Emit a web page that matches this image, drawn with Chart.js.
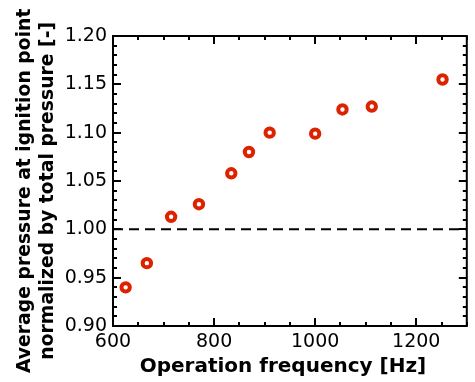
<!DOCTYPE html>
<html>
<head>
<meta charset="utf-8">
<script src="https://cdn.jsdelivr.net/npm/chart.js@4"></script>
<style>
html, body { margin: 0; padding: 0; background: #fff; }
</style>
</head>
<body>
<canvas id="myChart" width="475" height="382"></canvas>
<script>
// operating frequency [Hz] and normalized pressure at ignition point
const freqs = [625, 667, 715, 770, 834, 869, 910, 1000, 1054, 1112, 1252];
const pressures = [0.940, 0.965, 1.013, 1.026, 1.058, 1.080, 1.100, 1.099, 1.124, 1.127, 1.155];
const refLevel = 1.0;
const xTicks = [600, 800, 1000, 1200];
const yTicks = [0.90, 0.95, 1.00, 1.05, 1.10, 1.15, 1.20];
const xRange = [600, 1300];
const yRange = [0.90, 1.20];

Chart.defaults.font.family = "'DejaVu Sans', sans-serif";
Chart.defaults.color = '#000';

// inward tick marks + frame, like the original plot
const frameTicks = {
    id: 'frameTicks',
    afterDraw(chart) {
        const ctx = chart.ctx;
        const a = chart.chartArea;
        const xs = chart.scales.x, ys = chart.scales.y;
        ctx.save();
        ctx.strokeStyle = '#000';
        ctx.lineWidth = 2;
        ctx.beginPath();
        for (let v = xRange[0]; v <= xRange[1] + 1e-6; v += 50) {
            const px = Math.round(xs.getPixelForValue(v));
            const len = (v % 200 == 0) ? 8 : 4;
            ctx.moveTo(px, a.bottom); ctx.lineTo(px, a.bottom - len);
            ctx.moveTo(px, a.top); ctx.lineTo(px, a.top + len);
        }
        for (let i = 0; i <= 30; i++) {
            const v = yRange[0] + i * 0.01;
            const py = Math.round(ys.getPixelForValue(v));
            const len = (i % 5 == 0) ? 8 : 4;
            ctx.moveTo(a.left, py); ctx.lineTo(a.left + len, py);
            ctx.moveTo(a.right, py); ctx.lineTo(a.right - len, py);
        }
        ctx.stroke();
        ctx.strokeRect(a.left, a.top, a.right - a.left, a.bottom - a.top);
        ctx.restore();
    }
};

const pad = '\u00a0\u00a0\u00a0';

let myChart = new Chart(document.getElementById('myChart').getContext('2d'), {
    type: 'scatter',
    data: {
        datasets: [{
            label: 'pressure',
            data: freqs.map((f, i) => ({x: f, y: pressures[i]})),
            borderColor: '#dd2200',
            backgroundColor: '#fff',
            borderWidth: 4,
            pointRadius: 4.2,
            order: 0
        },
        {
            type: 'line',
            label: 'ref',
            data: [{x: xRange[0], y: refLevel}, {x: xRange[1], y: refLevel}],
            borderColor: '#000',
            borderWidth: 2,
            borderDash: [10, 6],
            pointRadius: 0,
            order: 1
        }]
    },
    options: {
        responsive: false,
        animation: false,
        devicePixelRatio: 1,
        layout: {padding: {top: 36, right: 3, left: 0, bottom: 0}},
        plugins: {legend: {display: false}, tooltip: {enabled: false}},
        scales: {
            x: {
                type: 'linear',
                min: xRange[0], max: xRange[1],
                afterBuildTicks: s => { s.ticks = xTicks.map(v => ({value: v})); },
                afterFit: s => { s.height = 56; },
                grid: {display: false, drawTicks: false},
                border: {display: false},
                ticks: {font: {size: 19}, padding: 5, maxRotation: 0, callback: v => String(v)},
                title: {
                    display: true,
                    text: 'Operation frequency [Hz]\u00a0\u00a0',
                    font: {size: 20, weight: 'bold'},
                    padding: {top: 0, bottom: 3}
                }
            },
            y: {
                type: 'linear',
                min: yRange[0], max: yRange[1],
                afterBuildTicks: s => { s.ticks = yTicks.map(v => ({value: v})); },
                afterFit: s => { s.width = 113; },
                grid: {display: false, drawTicks: false},
                border: {display: false},
                ticks: {font: {size: 19}, padding: 6, callback: v => v.toFixed(2)},
                title: {
                    display: true,
                    text: ['Average pressure at ignition point' + pad, 'normalized by total pressure [-]' + pad],
                    font: {size: 18.8, weight: 'bold', lineHeight: '23px'},
                    padding: {top: 14, bottom: 0}
                }
            }
        }
    },
    plugins: [frameTicks]
});
</script>
</body>
</html>
